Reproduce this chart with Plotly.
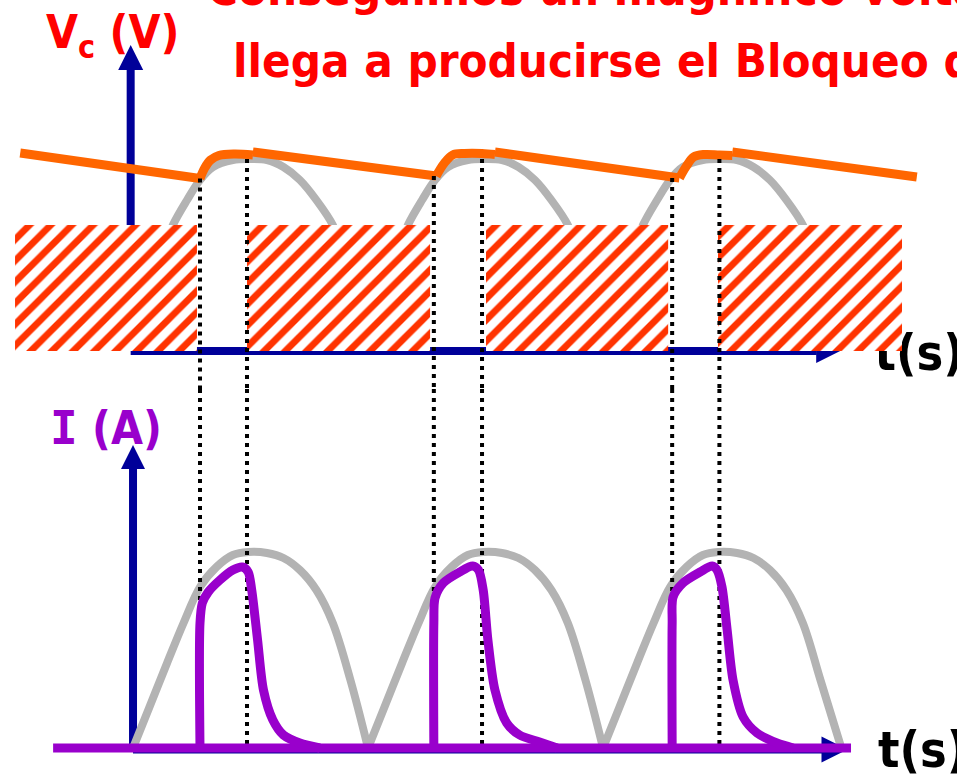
import plotly.graph_objects as go

# time axis in ms (half period of the rectified wave = 10 ms)
# top panel: capacitor voltage Vc, bottom panel: diode current I

# rectified wave seen in the top panel (only the part above the hatched blocks)
vtop_t = [1.45, 1.7, 2.3, 2.85, 3.4, 4.25, 4.9, 5.7, 6.4, 7.1, 7.8, 8.5, 8.75, None,
          11.45, 11.7, 12.3, 12.85, 13.4, 14.25, 14.9, 15.7, 16.4, 17.1, 17.8, 18.5, 18.75, None,
          21.45, 21.7, 22.3, 22.85, 23.4, 24.25, 24.9, 25.7, 26.4, 27.1, 27.8, 28.5, 28.75]
vtop_v = [11.0, 12.7, 15.2, 17.2, 18.5, 19.2, 19.3, 19.2, 18.5, 17.2, 15.2, 12.7, 11.0, None,
          11.0, 12.7, 15.2, 17.2, 18.5, 19.2, 19.3, 19.2, 18.5, 17.2, 15.2, 12.7, 11.0, None,
          11.0, 12.7, 15.2, 17.2, 18.5, 19.2, 19.3, 19.2, 18.5, 17.2, 15.2, 12.7, 11.0]

# capacitor discharge (straight parts)
vc_dis_t = [-4.8, 2.85, None, 5.1, 12.9, None, 15.4, 23.25, None, 25.5, 33.35]
vc_dis_v = [19.9, 17.35, None, 20.0, 17.6, None, 20.0, 17.4, None, 20.0, 17.5]
# capacitor charge (rounded parts)
vc_chg_t = [2.85, 3.05, 3.3, 3.65, 4.3, 5.1, None,
            12.9, 13.25, 13.6, 14.1, 14.85, 15.4, None,
            23.25, 23.55, 23.85, 24.3, 24.95, 25.5]
vc_chg_v = [17.35, 18.4, 19.2, 19.65, 19.8, 19.7, None,
            17.6, 18.9, 19.7, 19.85, 19.85, 19.75, None,
            17.4, 18.6, 19.5, 19.75, 19.7, 19.65]

# diode blocked intervals (hatched)
block_start = [-5.02, 4.85, 15.02, 24.89]
block_end = [2.72, 12.64, 22.77, 32.72]
block_low, block_high = 0.1, 12.7

# conduction start / end (dotted guides)
t_on = [2.85, 12.8, 22.94]
t_off = [4.85, 14.85, 24.95]
on_top = [17.35, 17.6, 17.4]
off_top = [19.3, 19.3, 19.3]

# rectified wave in the bottom panel
rect_t = [0, 0.7, 1.45, 2.15, 2.85, 3.55, 4.25, 4.9, 5.7, 6.4, 7.1, 7.8, 8.5, 9.25, 10, None,
          10, 10.7, 11.45, 12.15, 12.85, 13.55, 14.25, 14.9, 15.7, 16.4, 17.1, 17.8, 18.5, 19.25, 20, None,
          20, 20.7, 21.45, 22.15, 22.85, 23.55, 24.25, 24.9, 25.7, 26.4, 27.1, 27.8, 28.5, 29.25, 30.1]
rect_i = [0, 4.1, 8.5, 12.5, 16.1, 18.1, 19.3, 19.6, 19.5, 19.0, 17.8, 15.8, 12.5, 6.8, 0, None,
          0, 4.1, 8.5, 12.5, 16.1, 18.1, 19.3, 19.6, 19.5, 19.0, 17.8, 15.8, 12.5, 6.8, 0, None,
          0, 4.1, 8.5, 12.5, 16.1, 18.1, 19.3, 19.6, 19.5, 19.0, 17.8, 15.8, 12.5, 6.8, 0.3]

# diode current pulses
pulse_t = [2.85, 2.85, 2.95, 3.2, 3.7, 4.25, 4.65, 4.9, 5.05, 5.3, 5.55, 5.95, 6.4, 7.1, 7.95, None,
           12.8, 12.8, 12.85, 13.2, 13.9, 14.45, 14.7, 14.9, 15.1, 15.4, 15.9, 16.45, 17.3, 18.05, None,
           22.94, 22.94, 22.98, 23.4, 24.13, 24.64, 24.85, 25.06, 25.28, 25.53, 25.96, 26.55, 27.4, 28.09]
pulse_i = [0, 12.5, 14.5, 15.6, 16.8, 17.8, 18.1, 17.6, 15.8, 10.8, 5.8, 2.8, 1.3, 0.5, 0, None,
           0, 12.5, 15.0, 16.5, 17.6, 18.2, 17.8, 15.8, 10.8, 5.8, 2.5, 1.3, 0.6, 0, None,
           0, 12.5, 15.1, 16.5, 17.6, 18.2, 17.8, 16.1, 11.8, 6.8, 3.1, 1.5, 0.5, 0]
base_t = [-3.4, 30.55]
base_i = [0, 0]

# axes (arrows)
top_axis_x, top_axis_y = -0.1, 0.1
top_axis_tip_v, top_axis_tip_t = 30.7, 30.09
bot_axis_x, bot_axis_y = 0, -0.15
bot_axis_tip_i, bot_axis_tip_t = 30.3, 30.4

TOP_MIN, TOP_MAX = -3.7, 35.2
BOT_MIN, BOT_MAX = -3.0, 35.9

BLUE = '#000099'
GRAY = '#B3B3B3'
ORANGE = '#FF6600'
PURPLE = '#9900CC'
HATCH = '#FF3300'
RED = '#FF0000'
FONT = 'DejaVu Sans Condensed, DejaVu Sans'
DOTS = dict(color='black', width=4, dash='4px,5px')

data = []

# ---- top panel ----
data.append(go.Scatter(x=[top_axis_x, top_axis_x], y=[top_axis_y, top_axis_tip_v - 1.5], yaxis='y2',
                       mode='lines', line=dict(color=BLUE, width=8)))
data.append(go.Scatter(x=[top_axis_x, top_axis_tip_t - 1.0], y=[top_axis_y, top_axis_y], yaxis='y2',
                       mode='lines', line=dict(color=BLUE, width=8)))
data.append(go.Scatter(x=[top_axis_x, top_axis_tip_t], y=[top_axis_tip_v, top_axis_y], yaxis='y2',
                       mode='markers', marker=dict(symbol=['arrow-up', 'arrow-right'], size=[25, 24],
                                                   color=BLUE, opacity=1, line=dict(width=0))))
data.append(go.Scatter(x=[31.55], y=[-0.5], yaxis='y2', mode='text', text=['t(s)'],
                       textposition='middle right', cliponaxis=False,
                       textfont=dict(family=FONT, size=50, color='black', weight='bold')))
data.append(go.Scatter(x=vtop_t, y=vtop_v, yaxis='y2', mode='lines',
                       line=dict(color=GRAY, width=8, shape='spline')))

hx, hy = [], []
for a, b in zip(block_start, block_end):
    hx += [a, b, b, a, a, None]
    hy += [block_low, block_low, block_high, block_high, block_low, None]
data.append(go.Scatter(x=hx, y=hy, yaxis='y2', mode='lines', fill='toself', line=dict(width=0),
                       fillcolor='white',
                       fillpattern=dict(shape='/', fgcolor=HATCH, fgopacity=1, bgcolor='white',
                                        size=15, solidity=0.45)))

data.append(go.Scatter(x=vc_dis_t, y=vc_dis_v, yaxis='y2', mode='lines',
                       line=dict(color=ORANGE, width=9)))
data.append(go.Scatter(x=vc_chg_t, y=vc_chg_v, yaxis='y2', mode='lines',
                       line=dict(color=ORANGE, width=9, shape='spline')))

dx, dy = [], []
for t, v in zip(t_on + t_off, on_top + off_top):
    dx += [t, t, None]
    dy += [v, TOP_MIN, None]
data.append(go.Scatter(x=dx, y=dy, yaxis='y2', mode='lines', line=DOTS))

# ---- bottom panel ----
data.append(go.Scatter(x=[bot_axis_x, bot_axis_x], y=[bot_axis_y, bot_axis_tip_i - 1.5],
                       mode='lines', line=dict(color=BLUE, width=8)))
data.append(go.Scatter(x=[bot_axis_x, bot_axis_tip_t - 1.0], y=[bot_axis_y, bot_axis_y],
                       mode='lines', line=dict(color=BLUE, width=8)))
data.append(go.Scatter(x=[bot_axis_x, bot_axis_tip_t], y=[bot_axis_tip_i, bot_axis_y],
                       mode='markers', marker=dict(symbol=['arrow-up', 'arrow-right'], size=[24, 26],
                                                   color=BLUE, opacity=1, line=dict(width=0))))
data.append(go.Scatter(x=rect_t, y=rect_i, mode='lines',
                       line=dict(color=GRAY, width=8, shape='spline')))
bx, by = [], []
for t in t_on + t_off:
    bx += [t, t, None]
    by += [BOT_MAX, 0, None]
data.append(go.Scatter(x=bx, y=by, mode='lines', line=DOTS))
data.append(go.Scatter(x=base_t, y=base_i, mode='lines', line=dict(color=PURPLE, width=9)))
data.append(go.Scatter(x=pulse_t, y=pulse_i, mode='lines',
                       line=dict(color=PURPLE, width=9, shape='spline', smoothing=0.8)))
data.append(go.Scatter(x=[31.7], y=[-0.6], mode='text', text=['t(s)'],
                       textposition='middle right', cliponaxis=False,
                       textfont=dict(family=FONT, size=50, color='black', weight='bold')))

layout = go.Layout(
    width=957, height=778, margin=dict(l=0, r=0, t=0, b=0),
    paper_bgcolor='white', plot_bgcolor='white', showlegend=False,
    xaxis=dict(range=[-5.66, 35.06], visible=False, domain=[0, 1]),
    yaxis=dict(range=[BOT_MIN, BOT_MAX], visible=False, domain=[0, 0.5]),
    yaxis2=dict(range=[TOP_MIN, TOP_MAX], visible=False, domain=[0.5, 1], anchor='x'),
)

fig = go.Figure(data=data, layout=layout)

title_font = dict(family=FONT, size=47, color=RED, weight='bold')
fig.add_annotation(text='Conseguimos un magnífico voltaje, pero no', xref='paper', yref='paper',
                   x=0.214, y=1.015, xanchor='left', yanchor='middle', showarrow=False, font=title_font)
fig.add_annotation(text='llega a producirse el Bloqueo del diodo', xref='paper', yref='paper',
                   x=0.241, y=0.922, xanchor='left', yanchor='middle', showarrow=False, font=title_font)
fig.add_annotation(text='V<sub>c</sub> (V)', xref='paper', yref='paper',
                   x=0.046, y=0.955, xanchor='left', yanchor='middle', showarrow=False,
                   font=dict(family=FONT, size=46, color=RED, weight='bold'))
fig.add_annotation(text='<span style="font-family:DejaVu Sans Mono">I</span> (A)', xref='paper', yref='paper',
                   x=0.05, y=0.45, xanchor='left', yanchor='middle', showarrow=False,
                   font=dict(family=FONT, size=46, color=PURPLE, weight='bold'))

# page body has a default 8px margin; drop it so the figure fills the window
fig.write_html("out.html", config={'displayModeBar': False},
               post_script="document.body.style.margin='0';")
